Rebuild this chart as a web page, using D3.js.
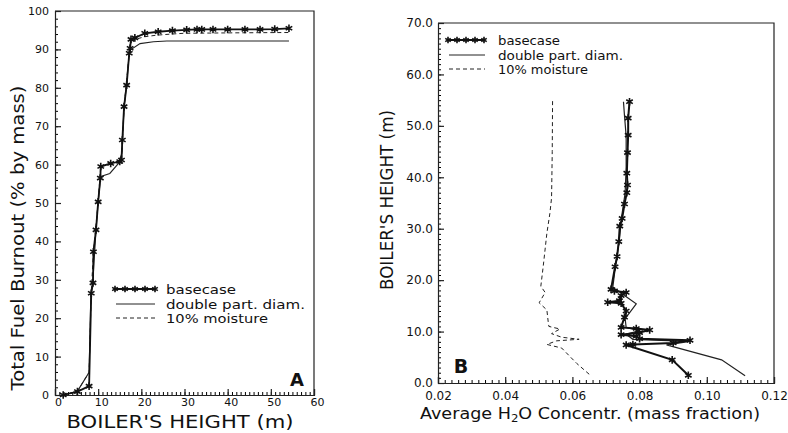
<!DOCTYPE html>
<html><head><meta charset="utf-8">
<script src="https://cdn.jsdelivr.net/npm/d3@7"></script>
<style>body{margin:0;background:#fff}svg{display:block}text{font-family:"DejaVu Sans",sans-serif;fill:#111}</style>
</head><body><svg id="c" width="788" height="433"></svg>
<script>
// ---- Panel A data: Boiler's height (m) vs total fuel burnout (% by mass)
const A_base_x = [1.9,5.2,7.9,8.4,8.8,8.9,9.5,10.0,10.5,10.6,12.9,15.0,15.4,15.6,16.0,16.6,17.2,17.4,17.6,18.5,20.8,23.9,27.2,30.5,32.9,34.0,36.6,40.0,44.0,47.5,50.9,54.2];
const A_base_y = [0,0.9,2.3,26.5,29.2,37.3,43.0,50.3,56.5,59.5,60.3,60.8,61.2,66.4,75.1,80.7,89.0,90.3,92.6,93.0,94.2,94.6,94.9,95.1,95.2,95.2,95.2,95.2,95.2,95.2,95.3,95.5];
const A_diam_x = [1.9,5.2,7.9,8.3,8.8,9.5,10.0,10.5,10.8,12.7,14.7,15.5,16.0,16.6,17.2,17.5,19.7,22.8,25.9,35.0,54.2];
const A_diam_y = [0,1.0,5.9,26.0,30.0,43.0,50.3,56.0,57.0,57.7,60.3,63.0,75.0,81.0,89.0,89.9,91.5,92.0,92.2,92.2,92.2];
const A_moist_x = [1.9,5.2,7.9,8.4,8.9,10.0,10.6,12.9,15.4,16.0,17.2,17.6,18.5,20.8,23.5,27.0,30.0,40.0,54.2];
const A_moist_y = [0,1.0,5.9,27.0,37.0,50.3,59.5,60.3,61.2,75.0,89.0,92.4,92.6,93.3,93.7,94.0,94.2,94.3,94.4];
const A_xticks = [0,10,20,30,40,50,60];
const A_yticks = [0,10,20,30,40,50,60,70,80,90,100];

// ---- Panel B data: average H2O concentration (mass fraction) vs boiler's height (m)
const B_base_c = [0.0945,0.0897,0.0760,0.0780,0.0900,0.0950,0.0800,0.0790,0.0745,0.0800,0.0830,0.0790,0.0745,0.0755,0.0760,0.0745,0.0705,0.0740,0.0745,0.0760,0.0725,0.0715,0.0727,0.0733,0.0738,0.0741,0.0748,0.0755,0.0762,0.0764,0.0762,0.0764,0.0766,0.0766,0.0770];
const B_base_h = [1.5,4.5,7.4,7.5,7.8,8.3,8.6,9.1,9.4,9.8,10.3,10.6,10.8,12.8,14.0,15.5,15.7,16.0,17.0,17.6,17.9,18.2,22.6,24.6,27.5,30.5,32.0,34.8,37.0,38.5,40.8,44.8,48.2,51.5,54.7];
const B_diam_c = [0.1114,0.1044,0.0880,0.0950,0.0780,0.0760,0.0800,0.0760,0.0757,0.0790,0.0755,0.0740,0.0720,0.0728,0.0740,0.0748,0.0757,0.0760,0.0760,0.0755,0.0752];
const B_diam_h = [1.4,4.5,7.4,8.1,8.5,9.5,10.2,10.8,12.5,15.4,17.0,17.8,18.5,22.6,28.0,33.0,37.0,42.0,48.0,52.0,54.7];
const B_moist_c = [0.0650,0.0613,0.0568,0.0524,0.0553,0.0620,0.0568,0.0538,0.0563,0.0530,0.0528,0.0524,0.0501,0.0519,0.0506,0.0513,0.0524,0.0533,0.0538,0.0540,0.0541];
const B_moist_h = [1.7,3.8,6.8,7.5,8.2,8.5,8.9,9.6,10.5,11.0,11.9,14.2,15.6,17.6,18.8,22.6,29.1,33.0,36.0,45.0,55.0];
const B_xticks = [0.02,0.04,0.06,0.08,0.10,0.12];
const B_yticks = [0,10,20,30,40,50,60,70];

const legendLabels = ["basecase","double part. diam.","10% moisture"];

const svg = d3.select("#c");
const star = d3.symbol().type(d3.symbolAsterisk).size(40);

function zip(a,b){return a.map((v,i)=>[v,b[i]]);}

function frame(g,x0,x1,y0,y1){
  g.append("path").attr("d",`M${x0},${y0}H${x1}V${y1}`).attr("fill","none").attr("stroke","#222").attr("stroke-width",1.2);
}

// ================= Panel A =================
{
  const x = d3.scaleLinear().domain([0,60]).range([55,314]);
  const y = d3.scaleLinear().domain([0,100]).range([395,11]);
  const g = svg.append("g");
  frame(g,55,314,11,395);
  g.append("g").attr("transform","translate(0,395)")
    .call(d3.axisBottom(x).tickValues(d3.range(0,61,1)).tickSize(-3).tickFormat(""))
    .call(s=>s.select(".domain").remove());
  g.append("g").attr("transform","translate(55,0)")
    .call(d3.axisLeft(y).tickValues(d3.range(0,101,2)).tickSize(-3).tickFormat(""))
    .call(s=>s.select(".domain").remove());
  const xa = g.append("g").attr("transform","translate(0,395)")
    .call(d3.axisBottom(x).tickValues(A_xticks).tickSize(-6).tickPadding(3).tickFormat(d3.format("d")));
  const ya = g.append("g").attr("transform","translate(55,0)")
    .call(d3.axisLeft(y).tickValues(A_yticks).tickSize(-6).tickPadding(6).tickFormat(d3.format("d")));
  [xa,ya].forEach(a=>{a.selectAll("path,line").attr("stroke","#222").attr("stroke-width",1.2);
    a.selectAll("text").style("font-size","11px").style("font-family","DejaVu Sans");});
  xa.selectAll("text").attr("dx","3");

  const line = d3.line().x(d=>x(d[0])).y(d=>y(d[1]));
  g.append("path").attr("d",line(zip(A_moist_x,A_moist_y))).attr("fill","none").attr("stroke","#222").attr("stroke-width",1).attr("stroke-dasharray","4,3");
  g.append("path").attr("d",line(zip(A_diam_x,A_diam_y))).attr("fill","none").attr("stroke","#222").attr("stroke-width",1.1);
  g.append("path").attr("d",line(zip(A_base_x,A_base_y))).attr("fill","none").attr("stroke","#111").attr("stroke-width",1.8);
  g.selectAll(".sa").data(zip(A_base_x,A_base_y)).join("path")
    .attr("transform",d=>`translate(${x(d[0])},${y(d[1])})`).attr("d",star).attr("stroke","#111").attr("stroke-width",1.6).attr("fill","none");

  g.append("text").attr("transform","translate(24,238) rotate(-90)").attr("text-anchor","middle")
    .attr("textLength",305).attr("lengthAdjust","spacingAndGlyphs").style("font-size","18px").text("Total Fuel Burnout (% by mass)");
  g.append("text").attr("x",180).attr("y",428).attr("text-anchor","middle")
    .attr("textLength",227).attr("lengthAdjust","spacingAndGlyphs").style("font-size","17px").text("BOILER'S HEIGHT (m)");
  g.append("text").attr("x",297).attr("y",386).attr("text-anchor","middle").style("font-size","18px").style("font-weight","bold").text("A");

  const ly=[289,304,318];
  const lg=g.append("g");
  lg.append("line").attr("x1",114).attr("x2",155).attr("y1",ly[0]).attr("y2",ly[0]).attr("stroke","#111").attr("stroke-width",1.8);
  d3.range(5).forEach(i=>lg.append("path").attr("transform",`translate(${115+i*10},${ly[0]})`).attr("d",d3.symbol().type(d3.symbolAsterisk).size(30)).attr("stroke","#111").attr("stroke-width",1.6));
  lg.append("line").attr("x1",116).attr("x2",155).attr("y1",ly[1]).attr("y2",ly[1]).attr("stroke","#222").attr("stroke-width",1);
  lg.append("line").attr("x1",116).attr("x2",155).attr("y1",ly[2]).attr("y2",ly[2]).attr("stroke","#222").attr("stroke-width",1).attr("stroke-dasharray","4,3");
  const lw=[70,139,102];
  legendLabels.forEach((t,i)=>lg.append("text").attr("x",166).attr("y",ly[i]+4.5).attr("textLength",lw[i]).attr("lengthAdjust","spacingAndGlyphs").style("font-size","13px").text(t));
}

// ================= Panel B =================
{
  const x = d3.scaleLinear().domain([0.02,0.12]).range([438,774]);
  const y = d3.scaleLinear().domain([0,70]).range([383,23]);
  const g = svg.append("g");
  frame(g,438,774,23,383);
  g.append("g").attr("transform","translate(0,383)")
    .call(d3.axisBottom(x).tickValues(d3.range(0,51).map(i=>0.02+i*0.002)).tickSize(-3).tickFormat(""))
    .call(s=>s.select(".domain").remove());
  g.append("g").attr("transform","translate(438,0)")
    .call(d3.axisLeft(y).tickValues(d3.range(0,71,1)).tickSize(-3).tickFormat(""))
    .call(s=>s.select(".domain").remove());
  const xa = g.append("g").attr("transform","translate(0,383)")
    .call(d3.axisBottom(x).tickValues(B_xticks).tickSize(-6).tickPadding(8).tickFormat(d3.format(".2f")));
  const ya = g.append("g").attr("transform","translate(438,0)")
    .call(d3.axisLeft(y).tickValues(B_yticks).tickSize(-6).tickPadding(5).tickFormat(d3.format(".1f")));
  [xa,ya].forEach(a=>{a.selectAll("path,line").attr("stroke","#222").attr("stroke-width",1.2);
    a.selectAll("text").style("font-size","12px").style("font-family","DejaVu Sans");});

  const line = d3.line().x(d=>x(d[0])).y(d=>y(d[1]));
  g.append("path").attr("d",line(zip(B_moist_c,B_moist_h))).attr("fill","none").attr("stroke","#222").attr("stroke-width",1).attr("stroke-dasharray","4,3");
  g.append("path").attr("d",line(zip(B_diam_c,B_diam_h))).attr("fill","none").attr("stroke","#222").attr("stroke-width",1.2);
  g.append("path").attr("d",line(zip(B_base_c,B_base_h))).attr("fill","none").attr("stroke","#111").attr("stroke-width",2);
  g.selectAll(".sb").data(zip(B_base_c,B_base_h)).join("path")
    .attr("transform",d=>`translate(${x(d[0])},${y(d[1])})`).attr("d",star).attr("stroke","#111").attr("stroke-width",1.6).attr("fill","none");

  g.append("text").attr("transform","translate(393,200) rotate(-90)").attr("text-anchor","middle")
    .attr("textLength",180).attr("lengthAdjust","spacingAndGlyphs").style("font-size","17px").text("BOILER'S HEIGHT (m)");
  const xt = g.append("text").attr("x",590).attr("y",419).attr("text-anchor","middle")
    .attr("textLength",340).attr("lengthAdjust","spacingAndGlyphs").style("font-size","15px");
  xt.append("tspan").text("Average H");
  xt.append("tspan").attr("dy",3).style("font-size","10px").text("2");
  xt.append("tspan").attr("dy",-3).text("O Concentr. (mass fraction)");
  g.append("text").attr("x",461).attr("y",373).attr("text-anchor","middle").style("font-size","19px").style("font-weight","bold").text("B");

  const ly=[40,55,69];
  const lg=g.append("g");
  lg.append("line").attr("x1",447).attr("x2",485).attr("y1",ly[0]).attr("y2",ly[0]).attr("stroke","#111").attr("stroke-width",1.8);
  d3.range(5).forEach(i=>lg.append("path").attr("transform",`translate(${448+i*9},${ly[0]})`).attr("d",d3.symbol().type(d3.symbolAsterisk).size(28)).attr("stroke","#111").attr("stroke-width",1.6));
  lg.append("line").attr("x1",449).attr("x2",485).attr("y1",ly[1]).attr("y2",ly[1]).attr("stroke","#222").attr("stroke-width",1);
  lg.append("line").attr("x1",449).attr("x2",485).attr("y1",ly[2]).attr("y2",ly[2]).attr("stroke","#222").attr("stroke-width",1).attr("stroke-dasharray","4,3");
  const lw=[62,125,90];
  legendLabels.forEach((t,i)=>lg.append("text").attr("x",498).attr("y",ly[i]+4.5).attr("textLength",lw[i]).attr("lengthAdjust","spacingAndGlyphs").style("font-size","13px").text(t));
}
</script></body></html>
